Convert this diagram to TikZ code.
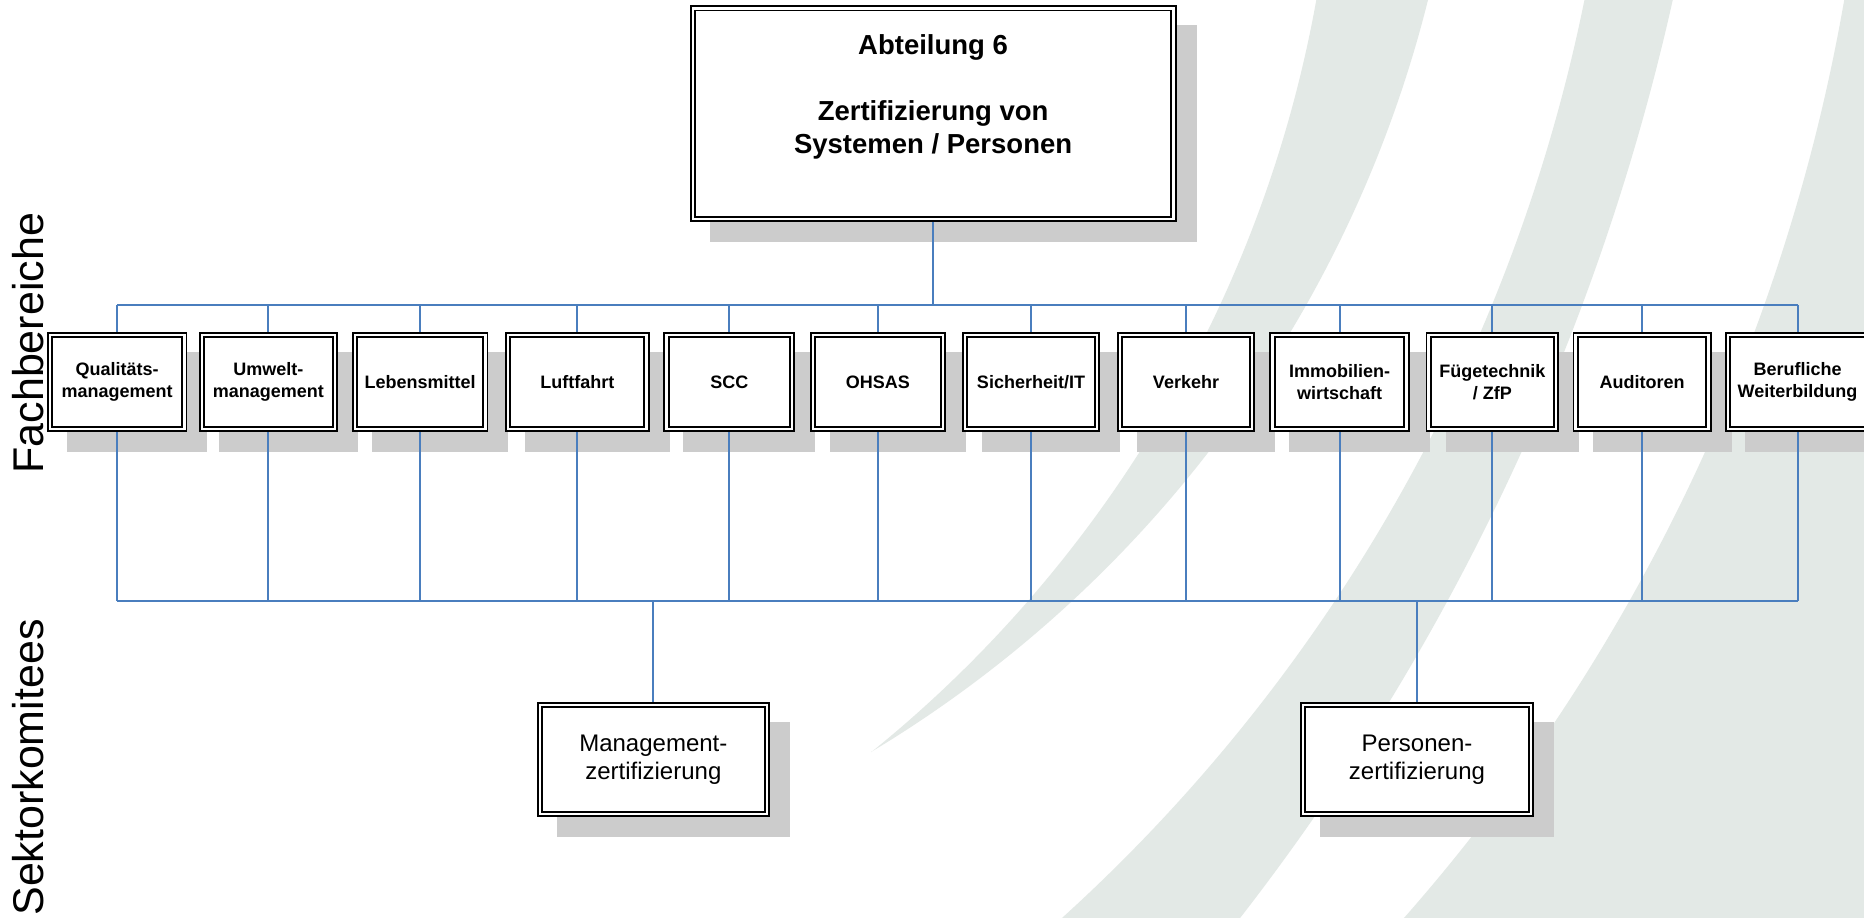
\documentclass[tikz,border=0pt]{standalone}
\usepackage{fontspec}
\setmainfont{Liberation Sans}
\pgfdeclarelayer{stripes}
\pgfdeclarelayer{shadows}
\pgfdeclarelayer{lines}
\pgfsetlayers{stripes,shadows,lines,main}
\definecolor{stripecol}{RGB}{227,233,230}
\definecolor{shadecol}{RGB}{204,204,204}
\definecolor{conncol}{RGB}{74,126,190}
\tikzset{
  orgbox/.style={draw=black, double=white, line width=1.9pt, double distance=2.4pt,
    fill=white, outer sep=3.1pt, inner sep=0pt, align=center},
  smallbox/.style={orgbox, minimum height=94.4pt,
    font=\bfseries\fontsize{18}{21.7}\selectfont},
  bigbox/.style={orgbox, minimum height=109.4pt,
    font=\fontsize{24}{28.3}\selectfont},
  toptext/.style={inner sep=0pt, align=center, font=\bfseries\fontsize{27.5}{33}\selectfont},
  sidelabel/.style={inner sep=0pt, rotate=90, anchor=base, font=\fontsize{43}{50}\selectfont},
  conn/.style={draw=conncol, line width=2pt},
  shadow/.style={fill=shadecol},
  arcplot/.style={samples=60, variable=\t, smooth}
}
\begin{document}
\begin{tikzpicture}[x=1pt,y=-1pt]
\useasboundingbox (0,0) rectangle (1864,918);
% background and stripes (circular arcs)
\begin{pgfonlayer}{stripes}
\clip (0,0) rectangle (1864,918);
\fill[white] (0,0) rectangle (1864,918);
\fill[stripecol]
  plot[arcplot, domain=-20:752] ({84.3+100*sqrt(12.517^2-((\t+221.2)/100)^2)},\t)
  -- plot[arcplot, domain=752:-20] ({240+100*sqrt(12.247^2-((\t+297.6)/100)^2)},\t)
  -- cycle;
\fill[stripecol]
  plot[arcplot, domain=-20:940] ({-75.2+100*sqrt(16.935^2-((\t+336.9)/100)^2)},\t)
  -- plot[arcplot, domain=940:-20] ({-592.3+100*sqrt(23.21^2-((\t+506.6)/100)^2)},\t)
  -- cycle;
\fill[stripecol]
  plot[arcplot, domain=-20:940] ({-3.6+100*sqrt(18.756^2-((\t+321.6)/100)^2)},\t)
  -- (1900,940) -- (1900,-20) -- cycle;
\end{pgfonlayer}
% side labels
\node[sidelabel] (fb) at (43.3,343.3) {Fachbereiche};
\node[sidelabel] (sk) at (43.3,767.5) {Sektorkomitees};
% boxes
\node[orgbox, minimum width=480.8pt, minimum height=210.9pt] (top) at (933.1,113.75) {};
\node[toptext, anchor=north] (tt) at (933.1,34) {Abteilung 6\\[33pt]Zertifizierung von\\Systemen / Personen};
\node[smallbox, minimum width=134.3pt] (q)   at (117.2,382) {Qualitäts-\\management};
\node[smallbox, minimum width=133.1pt] (u)   at (268.4,382) {Umwelt-\\management};
\node[smallbox, minimum width=130.4pt] (l)   at (420.1,382) {Lebensmittel};
\node[smallbox, minimum width=138.4pt] (lf)  at (577.3,382) {Luftfahrt};
\node[smallbox, minimum width=125.8pt] (scc) at (729.3,382) {SCC};
\node[smallbox, minimum width=130.2pt] (oh)  at (877.8,382) {OHSAS};
\node[smallbox, minimum width=131.8pt] (si)  at (1031,382) {Sicherheit/IT};
\node[smallbox, minimum width=131.8pt] (ve)  at (1186,382) {Verkehr};
\node[smallbox, minimum width=134.1pt] (im)  at (1339.5,382) {Immobilien-\\wirtschaft};
\node[smallbox, minimum width=127.3pt] (fu)  at (1492.3,382) {Fügetechnik\\/ ZfP};
\node[smallbox, minimum width=132.8pt] (au)  at (1642,382) {Auditoren};
\node[smallbox, minimum width=139.4pt] (bw)  at (1797.5,382) {Berufliche\\Weiterbildung};
\node[bigbox, minimum width=227.1pt] (mz) at (653.35,759.5) {Management-\\zertifizierung};
\node[bigbox, minimum width=227.8pt] (pz) at (1417,759.5) {Personen-\\zertifizierung};
% shadows
\begin{pgfonlayer}{shadows}
\foreach \n in {top,q,u,l,lf,scc,oh,si,ve,im,fu,au,bw,mz,pz}{
  \fill[shadow] ([shift={(20,20)}]\n.north west) rectangle ([shift={(20,20)}]\n.south east);
}
\end{pgfonlayer}
% connectors
\coordinate (tbus) at (0,305);
\coordinate (bbus) at (0,600.5);
\begin{pgfonlayer}{lines}
\draw[conn] (top.south) -- (top.south |- tbus);
\draw[conn] (q.north |- tbus) -- (bw.north |- tbus);
\draw[conn] (q.south |- bbus) -- (bw.south |- bbus);
\foreach \n in {q,u,l,lf,scc,oh,si,ve,im,fu,au,bw}{
  \draw[conn] (\n.north) -- (\n.north |- tbus);
  \draw[conn] (\n.south) -- (\n.south |- bbus);
}
\draw[conn] (mz.north) -- (mz.north |- bbus);
\draw[conn] (pz.north) -- (pz.north |- bbus);
\end{pgfonlayer}
\end{tikzpicture}
\end{document}
